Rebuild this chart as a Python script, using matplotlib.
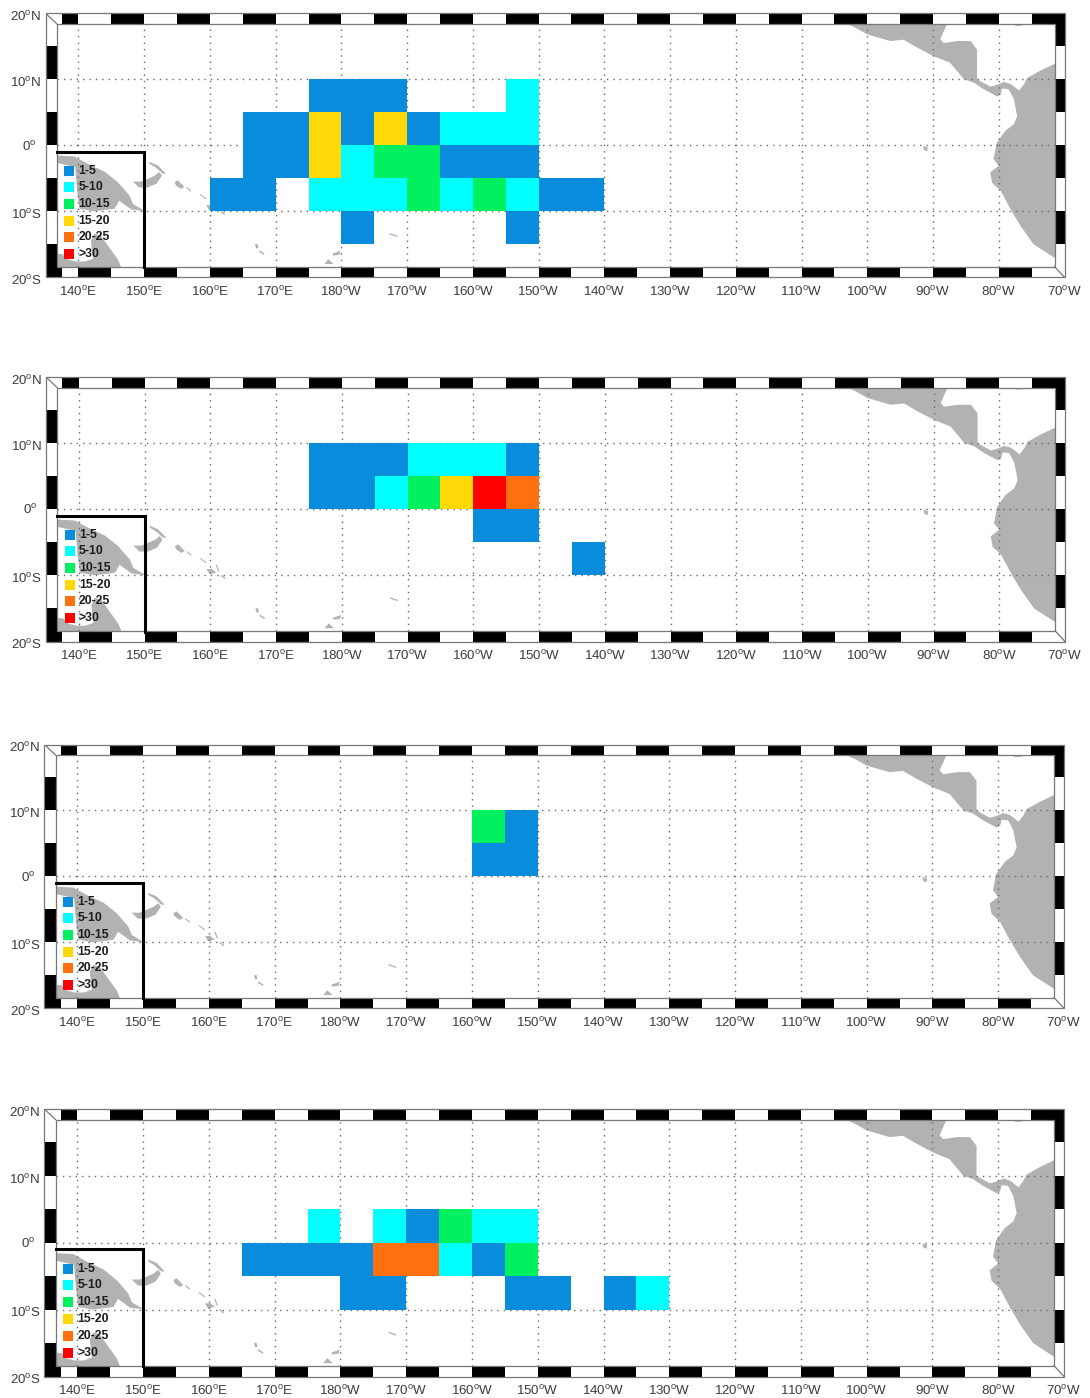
import numpy as np
import matplotlib
matplotlib.use("Agg")
import matplotlib.pyplot as plt
from matplotlib.colors import ListedColormap, BoundaryNorm
from matplotlib.patches import Rectangle, Polygon

plt.rcParams['font.family'] = ['Liberation Sans', 'DejaVu Sans']
plt.rcParams['mathtext.fontset'] = 'custom'
plt.rcParams['mathtext.rm'] = 'Liberation Sans'
plt.rcParams['mathtext.default'] = 'rm'

# ---- data -------------------------------------------------------------
cell_lon_edges = np.arange(160, 235, 5)
cell_lat_edges = np.array([10, 5, 0, -5, -10, -15])

panel_1 = [[0,0,0,3,3,3,0,0,0,7,0,0,0,0],
           [0,3,3,17,3,17,3,7,7,7,0,0,0,0],
           [0,3,3,17,7,12,12,3,3,3,0,0,0,0],
           [3,3,0,7,7,7,12,7,12,7,3,3,0,0],
           [0,0,0,0,3,0,0,0,0,3,0,0,0,0]]
panel_2 = [[0,0,0,3,3,3,7,7,7,3,0,0,0,0],
           [0,0,0,3,3,7,12,17,32,22,0,0,0,0],
           [0,0,0,0,0,0,0,0,3,3,0,0,0,0],
           [0,0,0,0,0,0,0,0,0,0,0,3,0,0],
           [0,0,0,0,0,0,0,0,0,0,0,0,0,0]]
panel_3 = [[0,0,0,0,0,0,0,0,12,3,0,0,0,0],
           [0,0,0,0,0,0,0,0,3,3,0,0,0,0],
           [0,0,0,0,0,0,0,0,0,0,0,0,0,0],
           [0,0,0,0,0,0,0,0,0,0,0,0,0,0],
           [0,0,0,0,0,0,0,0,0,0,0,0,0,0]]
panel_4 = [[0,0,0,0,0,0,0,0,0,0,0,0,0,0],
           [0,0,0,7,0,7,3,12,7,7,0,0,0,0],
           [0,3,3,3,3,22,22,7,3,12,0,0,0,0],
           [0,0,0,0,3,3,0,0,0,3,3,0,3,7],
           [0,0,0,0,0,0,0,0,0,0,0,0,0,0]]
panels = [panel_1, panel_2, panel_3, panel_4]

class_bounds = [1, 5, 10, 15, 20, 30, 40]
class_colors = ['#0a8cdc', '#00ffff', '#00f060', '#ffd808', '#ff7010', '#ff0000']
class_labels = ['1-5', '5-10', '10-15', '15-20', '20-25', '>30']
legend_lats = [-3.9, -6.35, -8.9, -11.4, -13.9, -16.5]

lon_ticks = np.arange(140, 300, 10)
lon_labels = ['140', '150', '160', '170', '180', '170', '160', '150', '140',
              '130', '120', '110', '100', '90', '80', '70']
lon_hemi = ['E', 'E', 'E', 'E'] + ['W'] * 12
lat_ticks = [20, 10, 0, -10, -20]
lat_labels = ['20', '10', '0', '10', '20']
lat_hemi = ['N', 'N', '', 'S', 'S']

land = [
    # Central America
    [(255,21),(256.7,18.5),(258.2,17.8),(260,16.8),(263.5,15.8),(265.5,16),(267.6,14.8),(270.1,13.5),
     (272.6,12.5),(274.7,10),(276.2,9.5),(277.7,8.5),(279.7,7.5),(280.3,8),(279.7,8.9),(280.3,9.2),
     (278.7,8.9),(276.7,10),(276.7,14.5),(275.7,15.8),(273.7,15.8),(271.6,15.5),(271.1,16.1),(272.1,18.3),(272.1,21)],
    # Panama
    [(279.3,9.0),(280.8,9.6),(281.8,9.3),(283.1,8.3),(282.4,7),(281.5,8.5),(280.5,8.6),(280.3,7.7),(279.75,7.4),(278,8.4)],
    # South America
    [(288.4,12.3),(286.3,11.3),(284.3,10.2),(283.8,9.2),(283,8.2),(281.5,8.6),
     (282.3,7),(282.8,4.4),(282.3,3.2),(281,2.2),(279.7,0.4),(279.2,-2.1),(280,-3.1),(278.7,-4.1),
     (279,-5.7),(280.3,-6.9),(281.8,-9.7),(283.3,-12.2),(285.3,-15),(288.4,-17),(291,-18),(291,12.3)],
    # New Guinea
    [(136,-1.5),(139.4,-1.7),(141.4,-2.8),(144,-4),(146,-5.6),(147.75,-7.6),(148.3,-8.9),(150.2,-10),
     (148,-9.7),(146.2,-8.4),(145.5,-9.6),(142.4,-10),(140.15,-9.6),(139.8,-6.85),
     (139.5,-3.3),(136.9,-2.7),(136,-2.7)],
    # Australia
    [(136,-16.4),(137.6,-16.5),(138.4,-17.3),(139.6,-17.6),(141,-17.6),(142.2,-17.2),(141.9,-14.5),
     (142.4,-13.4),(143.4,-13.7),(144.7,-15.5),(146,-17.3),(146.5,-18.5),(146.5,-19),(136,-19)],
    # Galapagos
    [(268.5,-0.1),(269.2,-0.3),(269.1,-0.9),(268.6,-0.7)],
    # Jamaica
    [(282,18.6),(283.6,18.6),(283.5,18.1),(282.5,18.1)],
    # New Britain
    [(148.3,-5.5),(149.5,-5.5),(150.5,-5.1),(151.6,-4.6),(152.3,-4.05),(152.7,-4.6),(151.9,-5.8),(150.5,-6.4),(149.2,-6.4)],
    # New Ireland
    [(150.8,-2.5),(152.06,-3.04),(153.3,-4.3),(152.8,-4.3),(151.8,-3.4),(150.8,-2.8)],
    # Solomon Islands
    [(154.6,-5.6),(155.1,-5.3),(156.1,-6.3),(155.6,-6.6),(154.85,-6.1)],
    [(156.4,-6.3),(157.1,-6.8),(157.1,-7.05),(156.4,-6.5)],
    [(158.5,-7.35),(159.4,-8),(159.4,-8.2),(158.5,-7.55)],
    [(159.4,-9.1),(160.2,-9),(160.9,-9.6),(159.9,-9.8)],
    [(160.8,-8.4),(161.0,-8.4),(161.4,-9.4),(161.2,-9.4)],
    [(161.7,-9.9),(162.3,-10.4),(162.2,-10.6),(161.6,-10.1)],
    # Vanuatu
    [(166.86,-14.97),(167.26,-14.97),(167.4,-15.6),(167,-15.6)],
    [(167.5,-15.9),(168.3,-16.4),(168.2,-16.6),(167.5,-16.2)],
    # Fiji
    [(178.66,-16.4),(179.9,-16),(179.7,-16.6),(178.7,-16.7)],
    [(177.4,-18),(178,-17.25),(178.8,-18)],
    # Samoa
    [(187.3,-13.3),(188.5,-13.7),(188.5,-13.9),(187.3,-13.5)],
]

# outer frame of each panel in picture pixels: left, right, top, bottom
boxes = [(45.6, 1064.5, 13.3, 277.3),
         (46.0, 1065.0, 377.0, 641.5),
         (44.4, 1064.0, 744.5, 1008.3),
         (44.4, 1064.0, 1109.0, 1376.5)]

W, H = 1090, 1398
fig = plt.figure(figsize=(W / 100, H / 100), dpi=100, facecolor='white')
cmap = ListedColormap(class_colors)
norm = BoundaryNorm(class_bounds, cmap.N)

X0, X1, Y0, Y1 = 135, 290, -20, 20
IX0, IX1, IY0, IY1 = 136.7, 288.5, -18.4, 18.4
EDGE = '#777777'

for data, (l, r, t, b) in zip(panels, boxes):
    ax = fig.add_axes([l / W, 1 - b / H, (r - l) / W, (b - t) / H])
    ax.set_xlim(X0, X1)
    ax.set_ylim(Y0, Y1)
    ax.axis('off')

    for poly in land:
        ax.add_patch(Polygon(poly, closed=True, fc='#b2b2b2', ec='none', zorder=1))

    for lon in lon_ticks[:-1]:
        ax.plot([lon, lon], [IY0, IY1], color='#666666', lw=1.0, ls=(0, (1, 3.6)), zorder=2)
    for lat in lat_ticks[1:-1]:
        ax.plot([IX0, IX1], [lat, lat], color='#666666', lw=1.0, ls=(0, (1, 3.6)), zorder=2)

    arr = np.ma.masked_equal(np.array(data, dtype=float), 0)
    ax.pcolormesh(cell_lon_edges, cell_lat_edges, arr, cmap=cmap, norm=norm,
                  shading='flat', antialiased=False, zorder=3)

    # checkered frame
    ax.add_patch(Rectangle((X0, IY1), X1 - X0, Y1 - IY1, fc='white', ec='none', zorder=5))
    ax.add_patch(Rectangle((X0, Y0), X1 - X0, IY0 - Y0, fc='white', ec='none', zorder=5))
    ax.add_patch(Rectangle((X0, Y0), IX0 - X0, Y1 - Y0, fc='white', ec='none', zorder=5))
    ax.add_patch(Rectangle((IX1, Y0), X1 - IX1, Y1 - Y0, fc='white', ec='none', zorder=5))
    ax.add_patch(Rectangle((137.5, IY1), 2.5, Y1 - IY1, fc='black', ec='none', zorder=6))
    for s in range(145, 290, 10):
        ax.add_patch(Rectangle((s, IY1), 5, Y1 - IY1, fc='black', ec='none', zorder=6))
    ax.add_patch(Rectangle((X0, Y0), 2.5, IY0 - Y0, fc='black', ec='none', zorder=6))
    for s in range(140, 285, 10):
        ax.add_patch(Rectangle((s, Y0), 5, IY0 - Y0, fc='black', ec='none', zorder=6))
    for s in (10, 0, -10, -20):
        ax.add_patch(Rectangle((X0, s), IX0 - X0, 5, fc='black', ec='none', zorder=6))
    for s in (15, 5, -5, -15):
        ax.add_patch(Rectangle((IX1, s), X1 - IX1, 5, fc='black', ec='none', zorder=6))
    ax.add_patch(Rectangle((X0, Y0), X1 - X0, Y1 - Y0, fc='none', ec=EDGE, lw=0.9, zorder=7, clip_on=False))
    ax.add_patch(Rectangle((IX0, IY0), IX1 - IX0, IY1 - IY0, fc='none', ec=EDGE, lw=0.9, zorder=7))
    ax.plot([X0, IX0], [Y1, IY1], color=EDGE, lw=0.9, zorder=7)
    ax.plot([IX1, X1], [IY0, Y0], color=EDGE, lw=0.9, zorder=7)

    # legend box and entries
    ax.plot([IX0, 150, 150], [-1, -1, IY0 - 0.1], color='black', lw=2.2,
            solid_joinstyle='miter', zorder=8)
    for c, lab, lat in zip(class_colors, class_labels, legend_lats):
        ax.scatter([138.6], [lat], marker='s', s=46, c=c, linewidths=0, zorder=9)
        ax.text(140.0, lat, lab, fontsize=8.8, fontweight='bold', color='#1c1c1c',
                ha='left', va='center', zorder=9)

    # tick labels
    for lon, lab, h in zip(lon_ticks, lon_labels, lon_hemi):
        ax.annotate(f'{lab}$^{{\\mathrm{{o}}}}${h}', xy=(lon, Y0), xytext=(0, -10.2),
                    textcoords='offset points', ha='center', va='center', fontsize=9.6,
                    color='#3c3c3c', annotation_clip=False)
    for lat, lab, h in zip(lat_ticks, lat_labels, lat_hemi):
        dx = -4 if h else -9
        dy = -2.6 if h else -0.8
        ax.annotate(f'{lab}$^{{\\mathrm{{o}}}}${h}', xy=(X0, lat), xytext=(dx * 0.72, dy),
                    textcoords='offset points', ha='right', va='center', fontsize=9.6,
                    color='#3c3c3c', annotation_clip=False)

fig.savefig('out.png', dpi=100, facecolor='white')
